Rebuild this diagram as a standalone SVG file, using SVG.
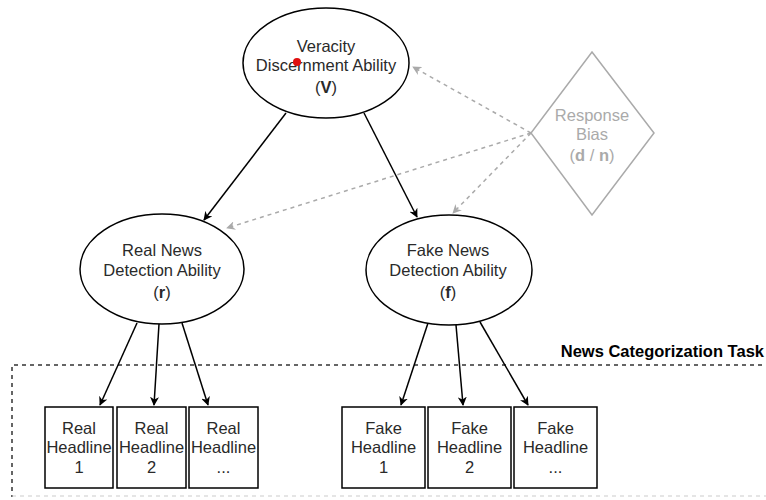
<svg xmlns="http://www.w3.org/2000/svg" width="766" height="500" viewBox="0 0 766 500">
<defs>
<marker id="ah" viewBox="0 0 10 10" refX="9" refY="5" markerWidth="9" markerHeight="9" markerUnits="userSpaceOnUse" orient="auto">
<path d="M0,0 L10,5 L0,10 L3,5 z" fill="#000"/>
</marker>
<marker id="ahg" viewBox="0 0 10 10" refX="9" refY="5" markerWidth="9" markerHeight="9" markerUnits="userSpaceOnUse" orient="auto">
<path d="M0,0 L10,5 L0,10 L3,5 z" fill="#aaa"/>
</marker>
</defs>
<style>
text{font-family:"Liberation Sans",Arial,sans-serif;font-size:16.5px;fill:#2a2a2a;text-anchor:middle}
.node{fill:#fff;stroke:#000;stroke-width:1.5}
.gray{fill:#fff;stroke:#aaa;stroke-width:1.5}
.gt{fill:#aaa}
.e{fill:none;stroke:#000;stroke-width:1.5;marker-end:url(#ah)}
.d{fill:none;stroke:#aaa;stroke-width:1.5;stroke-dasharray:4 4;marker-end:url(#ahg)}
</style>
<rect width="766" height="500" fill="#fff"/>
<g id="task">
<path d="M770,365 H12 V497" fill="none" stroke="#333" stroke-width="1.5" stroke-dasharray="4 4"/>
<line x1="12" y1="496" x2="770" y2="496" stroke="#ccc" stroke-width="1.2" stroke-dasharray="4 4"/>
<text x="764" y="357" style="text-anchor:end;font-weight:bold;fill:#000">News Categorization Task</text>
</g>
<g id="connectors">
<line class="e" x1="286" y1="113" x2="204" y2="220"/>
<line class="e" x1="364" y1="113" x2="417" y2="217"/>
<line class="d" x1="531" y1="133" x2="413" y2="67"/>
<line class="d" x1="531" y1="133" x2="227" y2="228"/>
<line class="d" x1="531" y1="133" x2="453" y2="213"/>
<line class="e" x1="137" y1="323" x2="100" y2="405"/>
<line class="e" x1="159" y1="324" x2="154" y2="405"/>
<line class="e" x1="182" y1="323" x2="208" y2="405"/>
<line class="e" x1="428" y1="323" x2="401" y2="405"/>
<line class="e" x1="456" y1="325" x2="463" y2="405"/>
<line class="e" x1="480" y1="322" x2="528" y2="405"/>
</g>
<g id="V">
<ellipse class="node" cx="326" cy="63" rx="83" ry="55"/>
<text x="326" y="52">Veracity</text>
<text x="326" y="71">Discernment Ability</text>
<text x="326" y="93">(<tspan font-weight="bold">V</tspan>)</text>
<circle cx="297" cy="62" r="4" fill="#e01010"/>
</g>
<g id="bias">
<polygon class="gray" points="592,52 654,133 592,215 531,133"/>
<text class="gt" x="592" y="121">Response</text>
<text class="gt" x="592" y="140">Bias</text>
<text class="gt" x="592" y="161">(<tspan font-weight="bold">d</tspan> / <tspan font-weight="bold">n</tspan>)</text>
</g>
<g id="r">
<ellipse class="node" cx="162" cy="269" rx="82" ry="55"/>
<text x="162" y="256">Real News</text>
<text x="162" y="276">Detection Ability</text>
<text x="162" y="298">(<tspan font-weight="bold">r</tspan>)</text>
</g>
<g id="f">
<ellipse class="node" cx="449" cy="270" rx="83" ry="55"/>
<text x="448" y="256">Fake News</text>
<text x="448" y="276">Detection Ability</text>
<text x="448" y="298">(<tspan font-weight="bold">f</tspan>)</text>
</g>
<g id="real1">
<rect class="node" x="45" y="407" width="68" height="81"/>
<text x="79" y="434">Real</text><text x="79" y="453">Headline</text><text x="79" y="473">1</text>
</g>
<g id="real2">
<rect class="node" x="117" y="407" width="69" height="81"/>
<text x="151.5" y="434">Real</text><text x="151.5" y="453">Headline</text><text x="151.5" y="473">2</text>
</g>
<g id="real3">
<rect class="node" x="189" y="407" width="69" height="81"/>
<text x="223.5" y="434">Real</text><text x="223.5" y="453">Headline</text><text x="223.5" y="473">...</text>
</g>
<g id="fake1">
<rect class="node" x="342" y="407" width="83" height="81"/>
<text x="383.5" y="434">Fake</text><text x="383.5" y="453">Headline</text><text x="383.5" y="473">1</text>
</g>
<g id="fake2">
<rect class="node" x="428" y="407" width="83" height="81"/>
<text x="469.5" y="434">Fake</text><text x="469.5" y="453">Headline</text><text x="469.5" y="473">2</text>
</g>
<g id="fake3">
<rect class="node" x="514" y="407" width="83" height="81"/>
<text x="555.5" y="434">Fake</text><text x="555.5" y="453">Headline</text><text x="555.5" y="473">...</text>
</g>
</svg>
